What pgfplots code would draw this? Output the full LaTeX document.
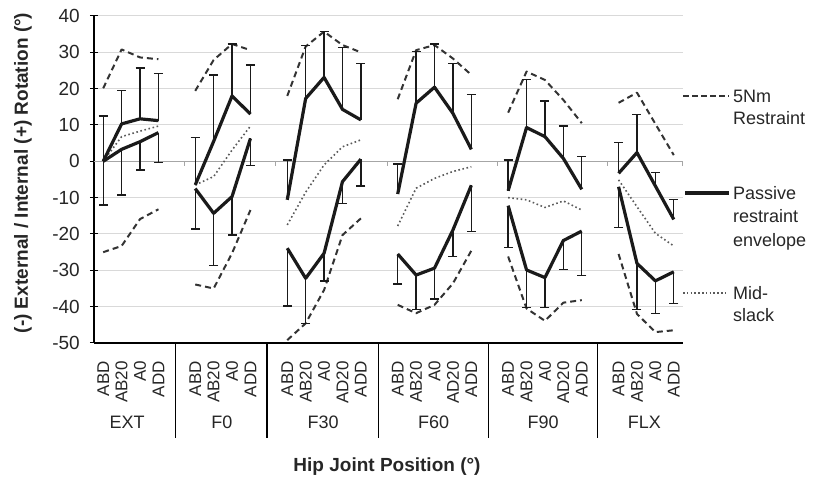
\documentclass[border=0pt]{standalone}
\usepackage{pgfplots}
\usepackage{pgfplotstable}
\pgfplotsset{compat=1.18}
\usepackage{fontspec}
\setmainfont{Liberation Sans}
\setsansfont{Liberation Sans}
\definecolor{txt}{HTML}{262626}
\definecolor{gridc}{HTML}{D9D9D9}
\definecolor{zeroc}{HTML}{A6A6A6}
\definecolor{dashc}{HTML}{333333}
\definecolor{dotc}{HTML}{5A5A5A}
\definecolor{solc}{HTML}{1A1A1A}

% x: slot index (blank slots 4, 9, 15, 21, 27 separate the groups)
% du/dl: 5Nm restraint (internal/external); su/sl: passive restraint envelope, sue/sle: SD; mid: mid-slack
\pgfplotstableread{
x   du     dl     su     sue    sl     sle    mid
0   20.1  -25.0    0.0   12.5    0.0   12.0    0.0
1   30.8  -23.3   10.3    9.1    3.3   12.6    6.8
2   28.6  -15.9   11.7   14.0    5.4    7.8    8.3
3   28.1  -13.2   11.2   13.0    7.9    8.3    9.7
}\tEXT
\pgfplotstableread{
x   du     dl     su     sue    sl     sle    mid
5   19.4  -33.9   -6.5   13.1   -7.5   11.1   -6.5
6   27.9  -35.0    5.5   18.3  -14.3   14.4   -4.2
7   32.3  -25.3   18.0   14.3   -9.7   10.6    3.1
8   30.6  -13.4   13.0   13.5    6.3    7.5    9.7
}\tFO
\pgfplotstableread{
x   du     dl     su     sue    sl     sle    mid
10  18.0  -49.2  -10.6   11.0  -23.9   15.9  -17.5
11  31.6  -44.6   17.3   14.5  -32.2   12.4   -8.5
12  35.7  -35.4   23.1   12.6  -25.3    7.6   -1.0
13  32.0  -20.3   14.3   17.1   -5.6    6.1    4.0
14  30.0  -15.7   11.4   15.6    0.6    7.4    5.9
}\tFXXX
\pgfplotstableread{
x   du     dl     su     sue    sl     sle    mid
16  17.1  -39.5   -9.0    8.3  -25.5    8.3  -17.8
17  30.6  -41.8   16.0   14.2  -31.3    9.4   -7.4
18  32.0  -39.5   20.4   11.9  -29.4    8.5   -4.7
19  28.3  -33.6   13.2   13.8  -18.9    7.3   -2.8
20  23.8  -24.6    3.3   15.1   -6.6   12.8   -1.5
}\tFLX
\pgfplotstableread{
x   du     dl     su     sue    sl     sle    mid
22  13.4  -26.2   -8.1    8.5  -12.2   11.6  -10.0
23  24.7  -40.5    9.3   13.3  -29.9   10.3  -10.6
24  22.4  -43.9    6.8    9.8  -32.0    8.2  -12.7
25  16.9  -38.9    0.8    8.9  -21.8    7.9  -10.9
26  10.5  -38.2   -7.7    9.0  -19.2   12.3  -13.4
}\tFXC
\pgfplotstableread{
x   du     dl     su     sue    sl     sle    mid
28  16.1  -25.5   -3.3    8.4   -7.0   11.2   -5.1
29  18.9  -42.0    2.4   10.4  -28.1   12.6  -12.5
30  10.3  -47.0   -6.8    3.8  -32.9    8.9  -19.8
31   1.7  -46.5  -16.0    5.4  -30.4    8.7  -23.3
}\tFLEX

\pgfplotsset{
  nm/.style={dashc, line width=2pt, dash pattern=on 6pt off 4pt, line join=round},
  ms/.style={dotc, line width=1.6pt, dash pattern=on 1.6pt off 2.6pt, line join=round},
  pe/.style={solc, line width=3.2pt, line join=round},
}
\newcommand{\group}[1]{%
  \addplot[nm] table[x=x, y=du] {#1};
  \addplot[nm] table[x=x, y=dl] {#1};
  \addplot[ms] table[x=x, y=mid] {#1};
  \addplot[pe, error bars/.cd, y dir=plus, y explicit] table[x=x, y=su, y error=sue] {#1};
  \addplot[pe, error bars/.cd, y dir=minus, y explicit] table[x=x, y=sl, y error=sle] {#1};
}

\begin{document}
\begin{tikzpicture}[x=1pt,y=1pt]
\path[use as bounding box] (0,0) rectangle (815,478);
\begin{axis}[
  at={(94pt,135pt)}, anchor=south west,
  scale only axis, width=589pt, height=327pt,
  xmin=-0.5, xmax=31.5, ymin=-50, ymax=40,
  clip=false,
  axis lines*=left,
  axis line style={black, line width=1.1pt},
  ytick={-50,-40,-30,-20,-10,0,10,20,30,40},
  yticklabels={-50,-40,-30,-20,-10,0,10,20,30,40},
  yticklabel style={font=\fontsize{19}{21}\selectfont, text=txt, anchor=east, inner sep=0pt, xshift=-10pt},
  tick align=center, major tick length=8pt,
  major y tick style={black, line width=1pt},
  major x tick style={draw=none},
  ymajorgrids, grid style={gridc, line width=1pt},
  xtick={0,1,2,3,5,6,7,8,10,11,12,13,14,16,17,18,19,20,22,23,24,25,26,28,29,30,31},
  xticklabels={ABD,AB20,A0,ADD,ABD,AB20,A0,ADD,ABD,AB20,A0,AD20,ADD,ABD,AB20,A0,AD20,ADD,ABD,AB20,A0,AD20,ADD,ABD,AB20,A0,ADD},
  xticklabel style={yshift=-14pt, rotate=90, anchor=east, inner sep=0pt, font=\fontsize{17}{19}\selectfont, text=txt},
  error bars/error bar style={solc, line width=1.3pt, solid},
  error bars/error mark options={rotate=90, solc, line width=1.3pt, mark size=4.5pt, solid},
]
% zero line with small ticks
\draw[zeroc, line width=1.2pt] (axis cs:-0.5,0) -- (axis cs:31.5,0);
\pgfplotsinvokeforeach{4.4,9.35,15.45,21.4,27.4,31.45}{
  \draw[zeroc, line width=1pt] (axis cs:#1,0) -- ([yshift=-5pt]axis cs:#1,0);
}
\group{\tEXT}
\group{\tFO}
\group{\tFXXX}
\group{\tFLX}
\group{\tFXC}
\group{\tFLEX}
% group separators and labels
\pgfplotsinvokeforeach{3.95,8.9,14.97,20.94,26.85}{
  \draw[black, line width=1.1pt] (axis cs:#1,-50) -- ([yshift=-95pt]axis cs:#1,-50);
}
\node[anchor=base, font=\fontsize{18}{20}\selectfont, text=txt, inner sep=0pt] at ([yshift=-85.5pt]axis cs:1.3,-50) {EXT};
\node[anchor=base, font=\fontsize{18}{20}\selectfont, text=txt, inner sep=0pt] at ([yshift=-85.5pt]axis cs:6.45,-50) {F0};
\node[anchor=base, font=\fontsize{18}{20}\selectfont, text=txt, inner sep=0pt] at ([yshift=-85.5pt]axis cs:11.95,-50) {F30};
\node[anchor=base, font=\fontsize{18}{20}\selectfont, text=txt, inner sep=0pt] at ([yshift=-85.5pt]axis cs:17.95,-50) {F60};
\node[anchor=base, font=\fontsize{18}{20}\selectfont, text=txt, inner sep=0pt] at ([yshift=-85.5pt]axis cs:23.9,-50) {F90};
\node[anchor=base, font=\fontsize{18}{20}\selectfont, text=txt, inner sep=0pt] at ([yshift=-85.5pt]axis cs:29.4,-50) {FLX};
\end{axis}
% axis titles
\node[rotate=90, font=\fontsize{19}{21}\selectfont\bfseries, text=txt] at (23,305) {(-) External / Internal (+) Rotation (°)};
\node[anchor=base, font=\fontsize{19}{21}\selectfont\bfseries, text=txt, inner sep=0pt] at (387,6) {Hip Joint Position (°)};
% legend
\draw[dashc, line width=2pt, dash pattern=on 6pt off 3pt] (683,382) -- (729,382);
\draw[solc, line width=4pt] (685,285) -- (729,285);
\draw[dotc, line width=1.6pt, dash pattern=on 1.6pt off 2.2pt] (683,185) -- (727,185);
\begin{scope}[every node/.style={anchor=base west, inner sep=0pt, font=\fontsize{18}{20}\selectfont, text=txt}]
\node at (733,375.5) {5Nm};
\node at (733,353.5) {Restraint};
\node at (733,278.5) {Passive};
\node at (733,255.5) {restraint};
\node at (733,231.5) {envelope};
\node at (733,178.5) {Mid-};
\node at (733,156.5) {slack};
\end{scope}
\end{tikzpicture}
\end{document}
